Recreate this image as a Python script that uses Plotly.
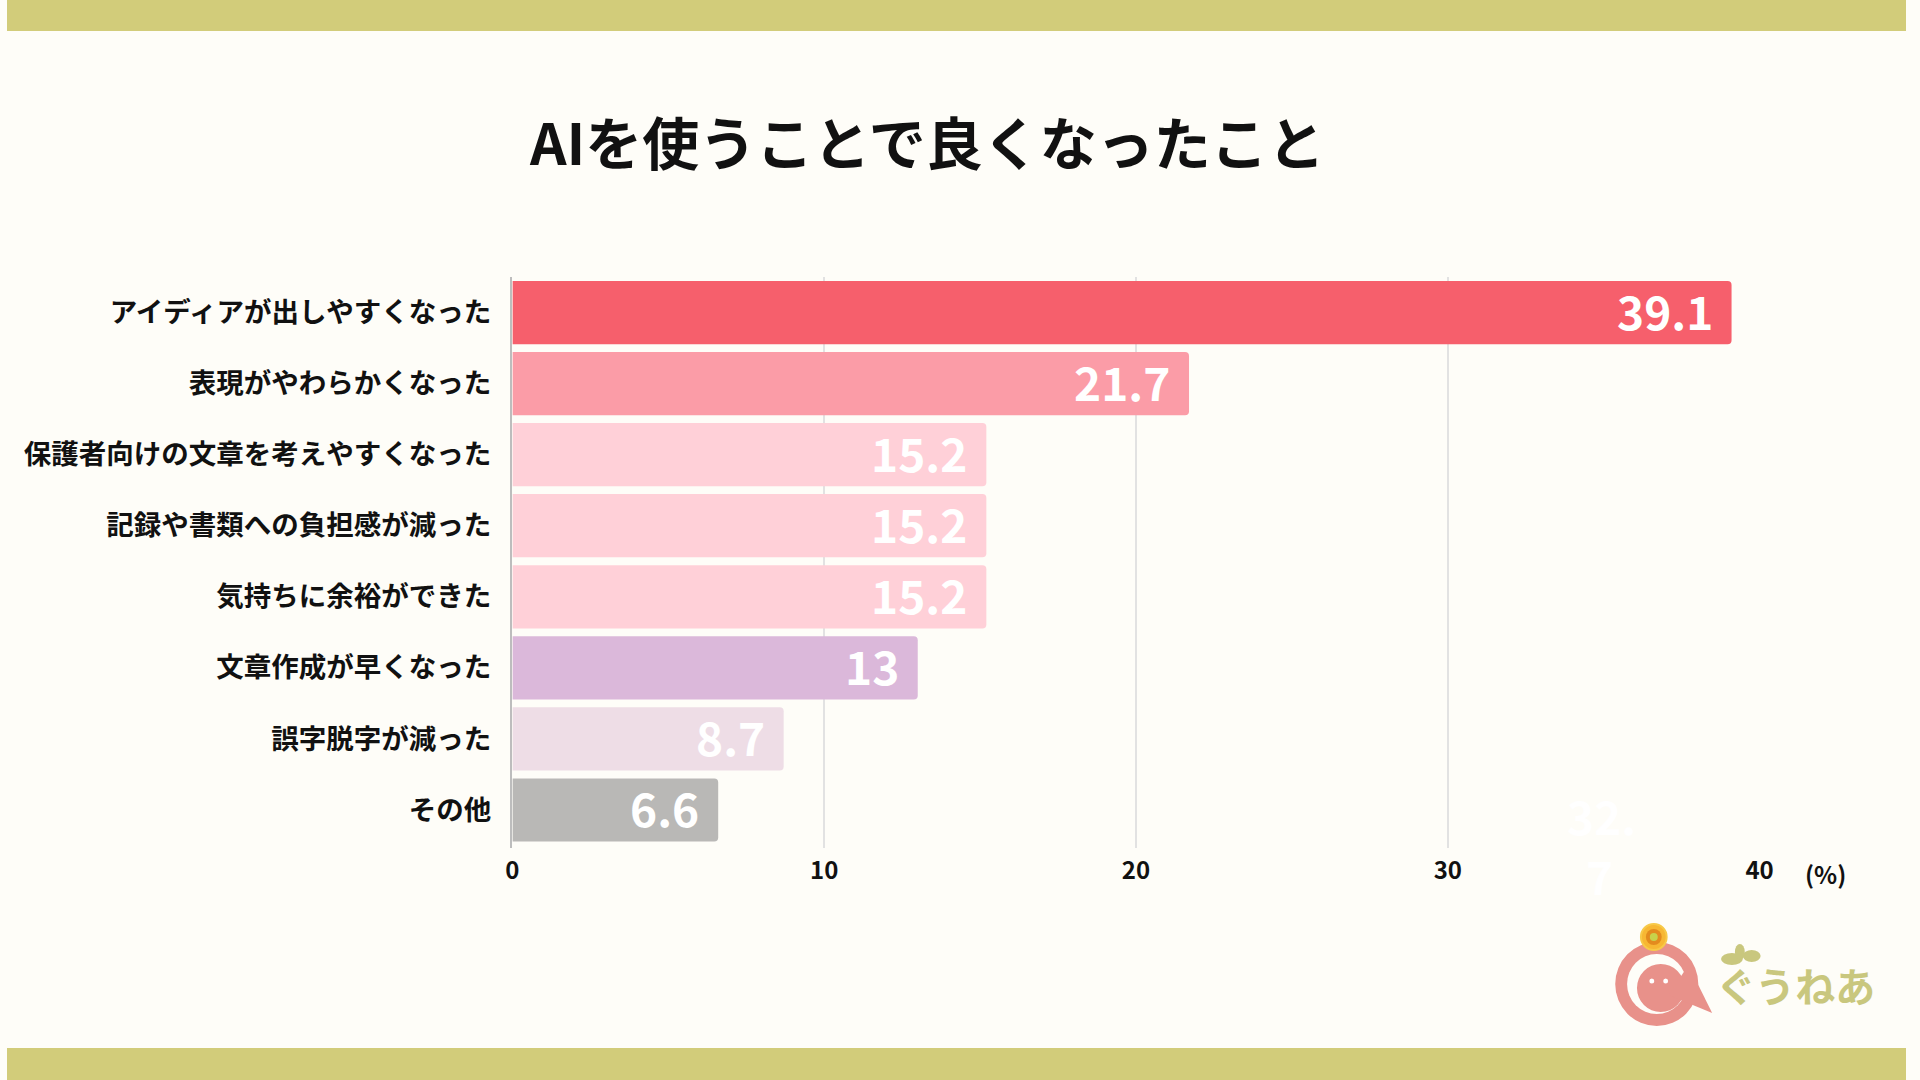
import plotly.graph_objects as go

categories = [
    "アイディアが出しやすくなった",
    "表現がやわらかくなった",
    "保護者向けの文章を考えやすくなった",
    "記録や書類への負担感が減った",
    "気持ちに余裕ができた",
    "文章作成が早くなった",
    "誤字脱字が減った",
    "その他",
]
values = [39.1, 21.7, 15.2, 15.2, 15.2, 13, 8.7, 6.6]
bar_colors = ["#F65F6C", "#FB9CA7", "#FFD0D8", "#FFD0D8", "#FFD0D8",
              "#DBB8DA", "#EEDDE6", "#B9B8B6"]
x_ticks = [0, 10, 20, 30, 40]
title_text = "AIを使うことで良くなったこと"
unit_text = "(%)"
logo_text = "ぐうねあ"

W, H = 1920, 1080
FONT = "Noto Sans CJK JP"
BG = "#FEFDF8"
BAND = "#D2CC7A"


def px(x):
    return x / W


def py(y):
    return 1 - y / H


fig = go.Figure()
fig.add_trace(go.Bar(
    y=categories,
    x=values,
    orientation="h",
    marker=dict(color=bar_colors, line=dict(width=0)),
    hoverinfo="skip",
))

annotations = []
for c, v in zip(categories, values):
    annotations.append(dict(
        x=v, y=c, xref="x", yref="y", text=f"<b>{v:g}</b>", showarrow=False,
        xanchor="right", yanchor="middle", xshift=-17, yshift=3,
        font=dict(family=FONT, size=46, color="#FFFFFF"),
    ))

# title
annotations.append(dict(
    x=px(930), y=py(140), xref="paper", yref="paper", text=f"<b>{title_text}</b>",
    showarrow=False, xanchor="center", yanchor="middle",
    font=dict(family=FONT, size=57, color="#111111"),
))
# unit
annotations.append(dict(
    x=px(1839), y=py(873), xref="paper", yref="paper", text=f"<b>{unit_text}</b>",
    showarrow=False, xanchor="center", yanchor="middle",
    font=dict(family=FONT, size=24, color="#111111"),
))
# faint stray label
annotations.append(dict(
    x=px(1612), y=py(815), xref="paper", yref="paper", text="<b>32.</b>",
    showarrow=False, xanchor="center", yanchor="middle",
    font=dict(family=FONT, size=46, color="#FFFFFF"),
))
annotations.append(dict(
    x=px(1610), y=py(875), xref="paper", yref="paper", text="<b>7</b>",
    showarrow=False, xanchor="center", yanchor="middle",
    font=dict(family=FONT, size=46, color="#FFFFFF"),
))
# logo text
annotations.append(dict(
    x=px(1808), y=py(985), xref="paper", yref="paper", text=f"<b>{logo_text}</b>",
    showarrow=False, xanchor="center", yanchor="middle",
    font=dict(family=FONT, size=40, color="#C9C77E"),
))

shapes = [
    dict(type="rect", xref="paper", yref="paper", x0=0, x1=1, y0=py(31), y1=1,
         fillcolor=BAND, line=dict(width=0), layer="below"),
    dict(type="rect", xref="paper", yref="paper", x0=0, x1=1, y0=0, y1=py(1048),
         fillcolor=BAND, line=dict(width=0), layer="below"),
]

# logo drawing (approximation)
PINK = "#E8918A"


def circ(cx, cy, r, color, line_color=None, lw=0):
    return dict(type="circle", xref="paper", yref="paper",
                x0=px(cx - r), x1=px(cx + r), y0=py(cy + r), y1=py(cy - r),
                fillcolor=color, line=dict(width=lw, color=line_color or color),
                layer="above")


shapes += [
    circ(1668, 984, 42, PINK),
    circ(1668, 984, 30, BG),
    circ(1672, 988, 24, PINK),
    dict(type="path", xref="paper", yref="paper",
         path=f"M {px(1680)},{py(995)} L {px(1724)},{py(1013)} L {px(1700)},{py(965)} Z",
         fillcolor=PINK, line=dict(width=0), layer="above"),
    circ(1665, 937, 13, "#F7B733", "#F7C948", 2),
    circ(1665, 937, 8, "#E38B1E"),
    circ(1665, 937, 4, "#C8D24A"),
    circ(1663, 981, 2.5, "#FFFFFF"),
    circ(1677, 981, 2.5, "#FFFFFF"),
    # leaves
    dict(type="circle", xref="paper", yref="paper",
         x0=px(1733), x1=px(1755), y0=py(965), y1=py(953),
         fillcolor="#C9C77E", line=dict(width=0)),
    dict(type="circle", xref="paper", yref="paper",
         x0=px(1755), x1=px(1773), y0=py(962), y1=py(950),
         fillcolor="#C9C77E", line=dict(width=0)),
    dict(type="circle", xref="paper", yref="paper",
         x0=px(1747), x1=px(1757), y0=py(960), y1=py(944),
         fillcolor="#C9C77E", line=dict(width=0)),
]

fig.update_layout(
    width=W, height=H,
    margin=dict(l=0, r=0, t=0, b=0),
    paper_bgcolor=BG, plot_bgcolor=BG,
    showlegend=False,
    bargap=0.11,
    barcornerradius=4,
    annotations=annotations,
    shapes=shapes,
    xaxis=dict(
        domain=[px(511), px(1772)],
        range=[0, 40],
        tickvals=x_ticks,
        ticktext=[f"<b>{t}</b>" for t in x_ticks],
        tickfont=dict(family=FONT, size=24, color="#111111"),
        showgrid=True, gridcolor="#E2E2E2", gridwidth=1.5,
        zeroline=False, showline=False, ticks="", ticklabelstandoff=6,
        fixedrange=True,
    ),
    yaxis=dict(
        domain=[py(848), py(277)],
        autorange="reversed",
        tickvals=categories,
        ticktext=[f"<b>{c}</b>" for c in categories],
        tickfont=dict(family=FONT, size=27.5, color="#111111"),
        showgrid=False, zeroline=False,
        showline=True, linecolor="#BDBDBD", linewidth=1.5,
        ticks="", ticklabelstandoff=14,
        fixedrange=True,
    ),
)

fig.write_html(
    "out.html",
    config={"displayModeBar": False},
    post_script=(
        "document.body.style.margin='0';document.body.style.padding='0';"
        "document.body.style.overflow='hidden';"
        "document.documentElement.style.overflow='hidden';"
        f"document.body.style.background='{BG}';"
    ),
)
